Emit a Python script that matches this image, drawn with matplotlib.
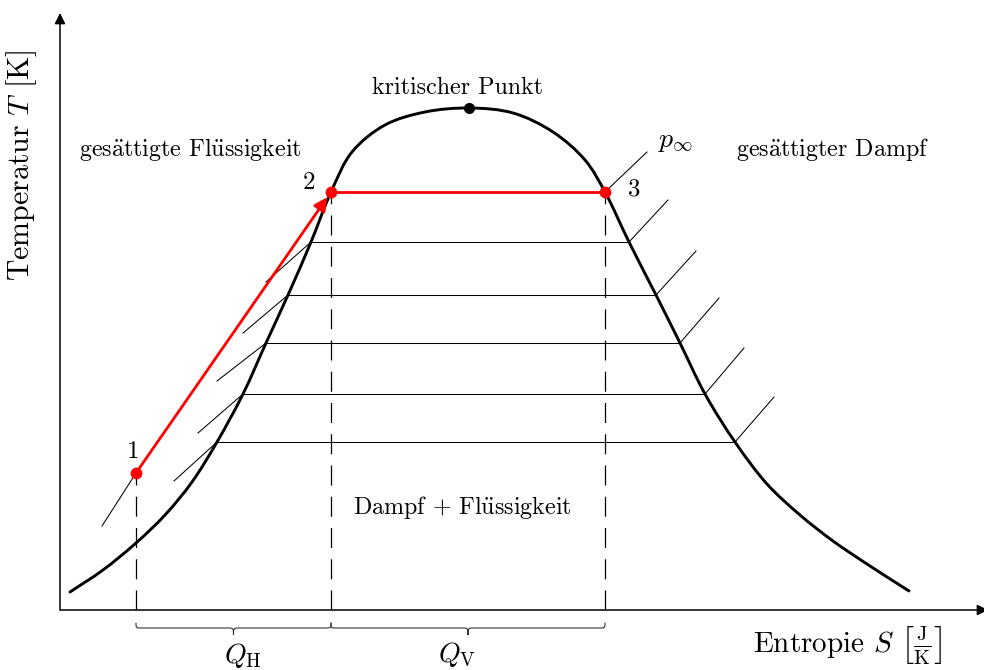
import numpy as np
import matplotlib
matplotlib.use("Agg")
import matplotlib.pyplot as plt
from matplotlib.path import Path
from matplotlib.patches import PathPatch, FancyArrowPatch

plt.rcParams["mathtext.fontset"] = "cm"
plt.rcParams["axes.formatter.use_mathtext"] = True
SERIF = ["cmr10", "DejaVu Serif"]

# Saturation dome (entropy S, temperature T), schematic units
dome_s = [10, 43, 76, 105, 132, 157, 183, 206, 228, 251, 271, 292, 325, 365,
          409, 453, 493, 525, 545, 569, 596, 620, 645, 675, 707, 740, 773,
          810, 849]
dome_t = [18, 40, 67, 95, 128, 168, 216, 267, 315, 368, 418, 458, 485, 498,
          502, 497, 478, 450, 418, 368, 315, 267, 216, 168, 126, 95, 69,
          44, 19]

# Isobars inside the two-phase region
iso_t = [368, 315, 267, 216, 168]
iso_s_left = [251, 228, 206, 183, 157]
iso_s_right = [569, 596, 620, 645, 675]
# Isobar continuations outside the dome
tail_right_s = [608, 636, 659, 684, 714]
tail_right_t = [410, 359, 312, 262, 213]
tail_left_s = [206, 183, 157, 138, 114]
tail_left_t = [328, 277, 229, 177, 129]
p_inf_s = [545, 587]
p_inf_t = [418, 458]
liquid_iso_s = [76, 42]
liquid_iso_t = [137, 84]

# Cycle states 1, 2, 3 and the critical point
state_labels = ["1", "2", "3"]
state_s = [76, 271, 545]
state_t = [137, 418, 418]
crit_s, crit_t = 409, 502


def smooth_path(xs, ys, alpha=0.5):
    """Centripetal Catmull-Rom spline through the points, as cubic Beziers."""
    pts = np.column_stack([xs, ys]).astype(float)
    pts = np.vstack([2 * pts[0] - pts[1], pts, 2 * pts[-1] - pts[-2]])
    verts = [pts[1]]
    codes = [Path.MOVETO]
    for i in range(1, len(pts) - 2):
        p0, p1, p2, p3 = pts[i - 1], pts[i], pts[i + 1], pts[i + 2]
        d1 = np.linalg.norm(p1 - p0) ** alpha
        d2 = np.linalg.norm(p2 - p1) ** alpha
        d3 = np.linalg.norm(p3 - p2) ** alpha
        c1 = (d1 ** 2 * p2 - d2 ** 2 * p0
              + (2 * d1 ** 2 + 3 * d1 * d2 + d2 ** 2) * p1) / (3 * d1 * (d1 + d2))
        c2 = (d3 ** 2 * p1 - d2 ** 2 * p3
              + (2 * d3 ** 2 + 3 * d3 * d2 + d2 ** 2) * p2) / (3 * d3 * (d3 + d2))
        verts += [c1, c2, p2]
        codes += [Path.CURVE4] * 3
    return Path(verts, codes)


def brace(ax, x0, x1, top=-13, mid=-18, tip=-25, r=6, lw=0.8):
    xc = 0.5 * (x0 + x1)
    verts = [(x0, top), (x0, mid), (x0, mid), (x0 + r, mid),
             (xc - r, mid),
             (xc, mid), (xc, mid), (xc, tip),
             (xc, mid), (xc, mid), (xc + r, mid),
             (x1 - r, mid),
             (x1, mid), (x1, mid), (x1, top)]
    codes = [Path.MOVETO, Path.CURVE4, Path.CURVE4, Path.CURVE4,
             Path.LINETO,
             Path.CURVE4, Path.CURVE4, Path.CURVE4,
             Path.CURVE4, Path.CURVE4, Path.CURVE4,
             Path.LINETO,
             Path.CURVE4, Path.CURVE4, Path.CURVE4]
    ax.add_patch(PathPatch(Path(verts, codes), fill=False, lw=lw,
                           edgecolor="#333333", capstyle="round"))


fig = plt.figure(figsize=(9.84, 6.70), dpi=100)
ax = fig.add_axes([0, 0, 1, 1])
ax.set_xlim(-60, 924)
ax.set_ylim(-60, 610)
ax.axis("off")

# Coordinate axes with arrow heads
ax.add_patch(FancyArrowPatch((0, 0), (928, 0), arrowstyle="-|>",
                             mutation_scale=16, lw=1.1, color="black",
                             shrinkA=0, shrinkB=0))
ax.add_patch(FancyArrowPatch((0, 0), (0, 597), arrowstyle="-|>",
                             mutation_scale=16, lw=1.1, color="black",
                             shrinkA=0, shrinkB=0))

# Isobars
thin = dict(color="black", lw=0.75)
for t, sl, sr in zip(iso_t, iso_s_left, iso_s_right):
    ax.plot([sl, sr], [t, t], **thin)
for t, sr, s2, t2 in zip(iso_t, iso_s_right, tail_right_s, tail_right_t):
    ax.plot([sr, s2], [t, t2], **thin)
for t, sl, s2, t2 in zip(iso_t, iso_s_left, tail_left_s, tail_left_t):
    ax.plot([sl, s2], [t, t2], **thin)
ax.plot(p_inf_s, p_inf_t, **thin)
ax.plot(liquid_iso_s, liquid_iso_t, **thin)

# Dashed drops from the cycle states to the entropy axis
for s, t in zip(state_s, state_t):
    ax.plot([s, s], [0, t], color="black", lw=0.9, linestyle=(0, (16, 9)))

# Saturation dome
ax.add_patch(PathPatch(smooth_path(dome_s, dome_t), fill=False, lw=2.1,
                       edgecolor="black", capstyle="round"))

# Cycle: compression 1 -> 2 and evaporation 2 -> 3
ax.annotate("", xy=(state_s[1], state_t[1]), xytext=(state_s[0], state_t[0]),
            arrowprops=dict(arrowstyle="-|>", color="#ff0000", lw=2.0,
                            mutation_scale=20, shrinkA=0, shrinkB=4.5))
ax.plot(state_s[1:], state_t[1:], color="#ff0000", lw=2.0)
ax.plot(state_s, state_t, "o", color="#ff0000", ms=8.5, mec="none", zorder=5)
ax.plot([crit_s], [crit_t], "o", color="black", ms=8, mec="none", zorder=5)

# Heat braces under the entropy axis
brace(ax, state_s[0], state_s[1])
brace(ax, state_s[1], state_s[2])

# Labels
AE = r"$\ddot{\mathrm{a}}$"
UE = r"$\ddot{\mathrm{u}}$"
small = 17.3
ax.text(398, 516, "kritischer Punkt", family=SERIF, fontsize=small,
        ha="center", va="baseline")
ax.text(130, 454, f"ges{AE}ttigte Fl{UE}ssigkeit", family=SERIF,
        fontsize=small, ha="center", va="baseline")
ax.text(773, 454, f"ges{AE}ttigter Dampf", family=SERIF, fontsize=small,
        ha="center", va="baseline")
ax.text(402, 96, f"Dampf + Fl{UE}ssigkeit", family=SERIF, fontsize=small,
        ha="center", va="baseline")
ax.text(616, 463, r"$p_\infty$", fontsize=20, ha="center", va="baseline")

label_pos = [(73, 152), (249, 421), (574, 415)]
for lab, (x, y) in zip(state_labels, label_pos):
    ax.text(x, y, lab, family=SERIF, fontsize=18, ha="center", va="baseline")

ax.text(183, -45, r"$Q_{\mathrm{H}}$", fontsize=20, ha="center", va="center")
ax.text(397, -45, r"$Q_{\mathrm{V}}$", fontsize=20, ha="center", va="center")

ax.text(-38, 445, r"Temperatur $T$ [K]", family=SERIF, fontsize=21.5,
        ha="center", va="center", rotation=90)
ax.text(788, -35, r"Entropie $S$ $\left[\frac{\mathrm{J}}{\mathrm{K}}\right]$",
        family=SERIF, fontsize=21, ha="center", va="center")

fig.savefig("out.png", dpi=100)
